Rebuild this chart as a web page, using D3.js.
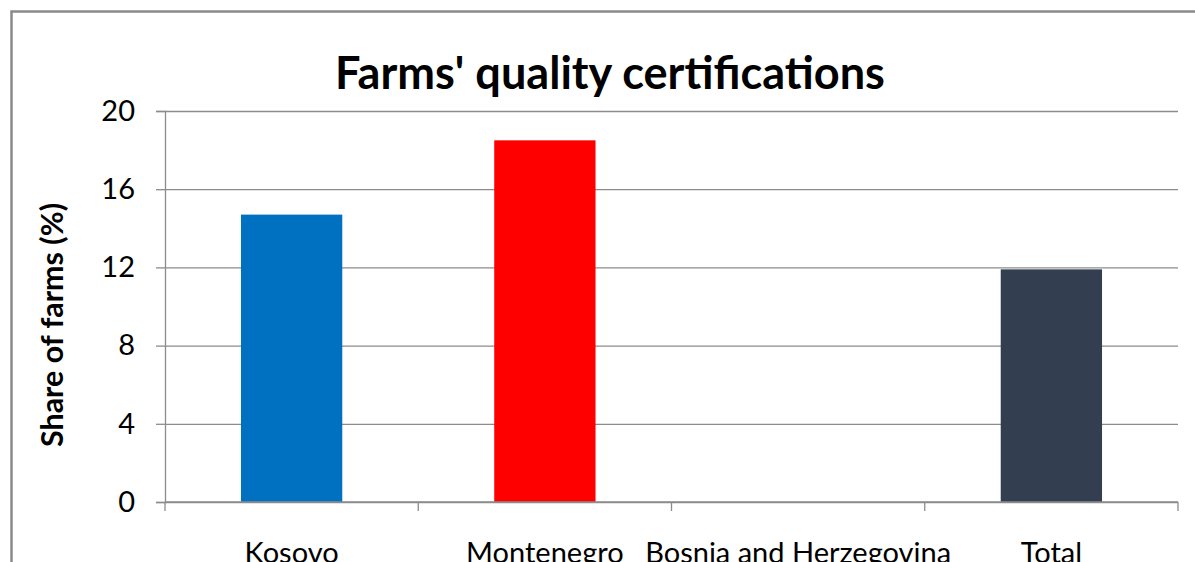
<!DOCTYPE html>
<html>
  <head>
    <title>Farms' quality certifications</title>
    <script src="https://cdn.jsdelivr.net/npm/d3@7"></script>
    <style>
      body {
        margin: 0;
        background: white;
      }
      svg {
        display: block;
        font-family: Lato, "Open Sans", sans-serif;
      }
    </style>
  </head>
  <body>
    <script>
    // data
    var categories = ["Kosovo", "Montenegro", "Bosnia and Herzegovina", "Total"];
    var shares = [14.7, 18.5, 0, 11.9];
    var barColors = ["#0070C0", "#FF0000", "#1F3864", "#333F50"];
    var yTicks = [0, 4, 8, 12, 16, 20];

    var W = 1195, H = 562;
    var plot = {left: 165, right: 1178, top: 111, bottom: 502};

    var svg = d3.select("body").append("svg")
      .attr("width", W)
      .attr("height", H);

    // outer chart frame (runs off the right and bottom edge)
    svg.append("rect")
      .attr("x", 11.5)
      .attr("y", 11.5)
      .attr("width", 1200)
      .attr("height", 600)
      .attr("fill", "white")
      .attr("stroke", "#8a8a8a")
      .attr("stroke-width", 2.5);

    var x = d3.scaleBand()
      .domain(categories)
      .range([plot.left, plot.right])
      .padding(0);

    var y = d3.scaleLinear()
      .domain([0, 20])
      .range([plot.bottom, plot.top]);

    // make a text node fit a given width by changing its font size
    function fitWidth (sel, width) {
      var node = sel.node();
      var size = parseFloat(sel.attr("font-size"));
      var len = node.getComputedTextLength();
      sel.attr("font-size", (size * width / len).toFixed(2));
    }

    // gridlines
    var grid = svg.append("g")
      .attr("transform", "translate(" + plot.left + ",0)")
      .call(d3.axisLeft(y).tickValues(yTicks).tickSize(-(plot.right - plot.left)).tickFormat(""));
    grid.select(".domain").remove();
    grid.selectAll("line")
      .attr("stroke", "#8c8c8c")
      .attr("stroke-width", 1.3);

    // bars
    var bw = x.bandwidth() * 0.4;
    svg.append("g").selectAll("rect")
      .data(shares)
      .join("rect")
      .attr("x", function (d, i) { return x(categories[i]) + (x.bandwidth() - bw) / 2; })
      .attr("y", function (d) { return y(d); })
      .attr("width", bw)
      .attr("height", function (d) { return y(0) - y(d); })
      .attr("fill", function (d, i) { return barColors[i]; });

    // y axis
    var yAxis = svg.append("g")
      .attr("transform", "translate(" + plot.left + ",0)")
      .call(d3.axisLeft(y).tickValues(yTicks).tickSize(9).tickPadding(21));
    yAxis.select(".domain")
      .attr("stroke", "#8c8c8c")
      .attr("stroke-width", 1.3);
    yAxis.selectAll("line")
      .attr("stroke", "#8c8c8c")
      .attr("stroke-width", 1.3);
    yAxis.selectAll("text")
      .attr("font-family", "Lato, 'Open Sans', sans-serif")
      .attr("font-size", 29)
      .attr("fill", "#000");

    // x axis line and boundary ticks
    var xAxis = svg.append("g");
    xAxis.append("line")
      .attr("x1", plot.left)
      .attr("x2", plot.right)
      .attr("y1", y(0))
      .attr("y2", y(0))
      .attr("stroke", "#8c8c8c")
      .attr("stroke-width", 1.3);
    var bounds = categories.map(function (c) { return x(c); }).concat([x(categories[categories.length - 1]) + x.bandwidth()]);
    xAxis.selectAll("line.tick")
      .data(bounds)
      .join("line")
      .attr("class", "tick")
      .attr("x1", function (d) { return d; })
      .attr("x2", function (d) { return d; })
      .attr("y1", y(0))
      .attr("y2", y(0) + 9)
      .attr("stroke", "#8c8c8c")
      .attr("stroke-width", 1.3);

    // category labels (the reference cuts them at the bottom edge)
    svg.append("g").selectAll("text")
      .data(categories)
      .join("text")
      .attr("x", function (d) { return x(d) + x.bandwidth() / 2; })
      .attr("y", 563)
      .attr("text-anchor", "middle")
      .attr("font-size", 29)
      .attr("fill", "#000")
      .text(function (d) { return d; });

    // title
    var title = svg.append("text")
      .attr("x", 610)
      .attr("y", 89)
      .attr("text-anchor", "middle")
      .attr("font-size", 36)
      .attr("font-weight", "bold")
      .attr("fill", "#000")
      .text("Farms' quality certifications");
    fitWidth(title, 550);

    // y axis title
    var yTitle = svg.append("text")
      .attr("transform", "translate(63,325) rotate(-90)")
      .attr("text-anchor", "middle")
      .attr("font-size", 24)
      .attr("font-weight", "bold")
      .attr("fill", "#000")
      .text("Share of farms (%)");
    fitWidth(yTitle, 244);
    </script>
  </body>
</html>
